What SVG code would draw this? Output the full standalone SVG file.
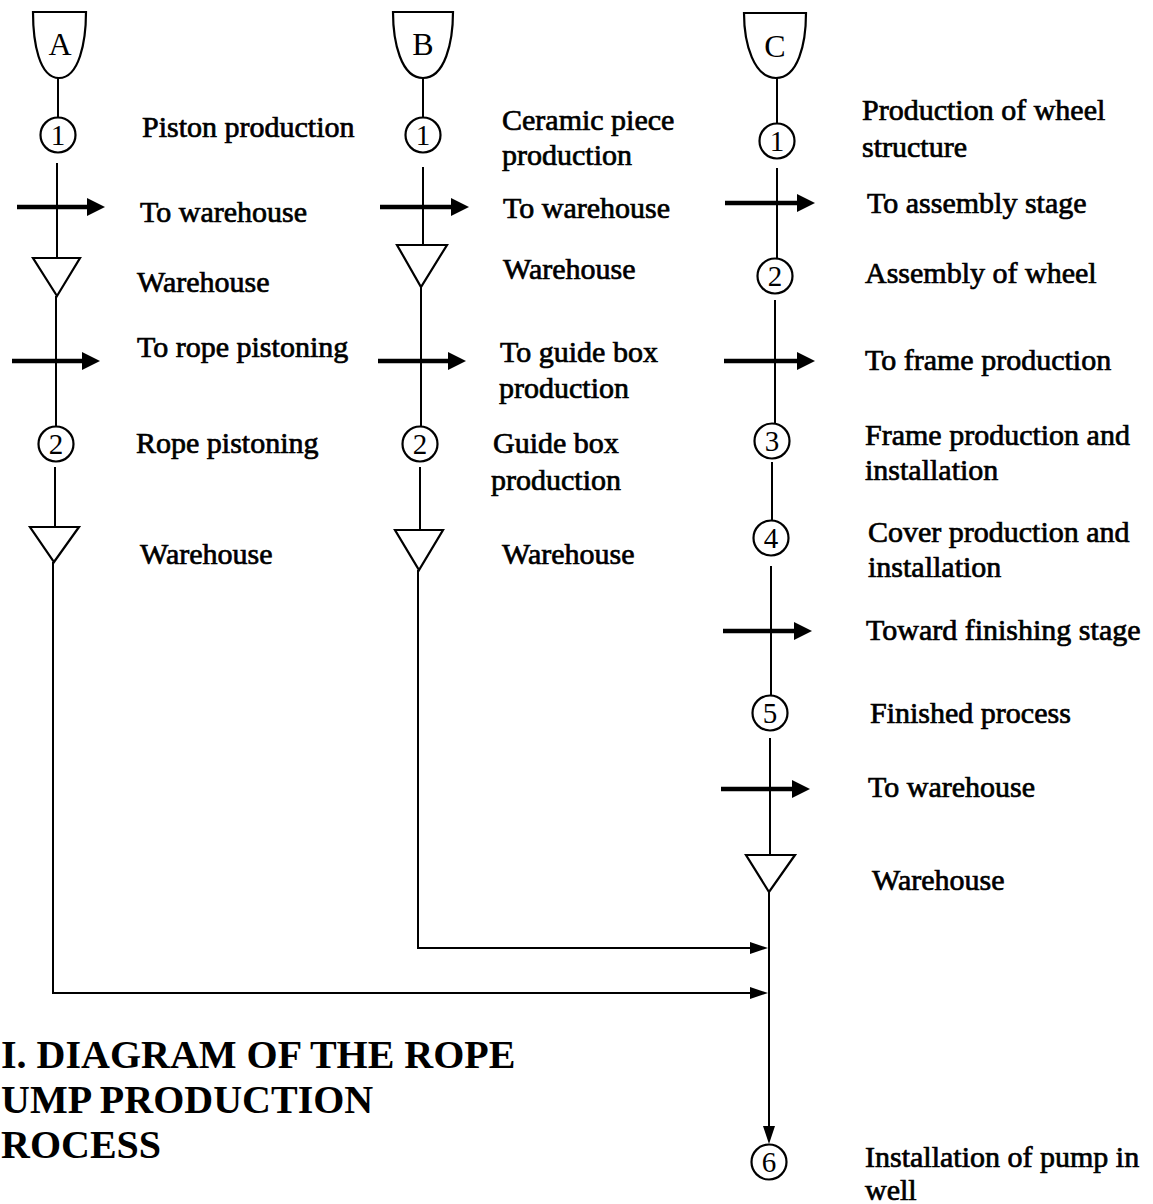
<svg xmlns="http://www.w3.org/2000/svg" width="1153" height="1204" viewBox="0 0 1153 1204">
<style>
.bg{fill:#fff}
.ln{stroke:#000;stroke-width:2;fill:none}
.shape{stroke:#000;stroke-width:2.2;fill:#fff}
.tr{stroke:#000;stroke-width:4.5;fill:none}
.lbl{font-family:"Liberation Serif","Times New Roman",serif;font-size:30px;fill:#000;stroke:#000;stroke-width:0.7}
.num{font-family:"Liberation Serif","Times New Roman",serif;font-size:29px;fill:#000;text-anchor:middle}
.let{font-family:"Liberation Serif","Times New Roman",serif;font-size:32px;fill:#000;text-anchor:middle}
.title{font-family:"Liberation Serif","Times New Roman",serif;font-size:40px;font-weight:bold;fill:#000}
</style>
<defs>
<marker id="big" markerUnits="userSpaceOnUse" markerWidth="18" markerHeight="18" refX="4" refY="9" orient="auto" viewBox="0 0 18 18">
<path d="M0,0 L18,9 L0,18 Z" fill="#000"/>
</marker>
<marker id="small" markerUnits="userSpaceOnUse" markerWidth="18" markerHeight="12" refX="2" refY="6" orient="auto" viewBox="0 0 18 12">
<path d="M0,0 L18,6 L0,12 Z" fill="#000"/>
</marker>
</defs>
<rect class="bg" x="0" y="0" width="1153" height="1204"/>

<g id="connectors">
<!-- column A -->
<line class="ln" x1="58" y1="78" x2="58" y2="117"/>
<line class="ln" x1="57" y1="163" x2="57" y2="258"/>
<line class="ln" x1="56" y1="296" x2="56" y2="426"/>
<line class="ln" x1="55" y1="467" x2="55" y2="527"/>
<polyline class="ln" points="53,562 53,993 752,993" marker-end="url(#small)"/>
<!-- column B -->
<line class="ln" x1="423" y1="78" x2="423" y2="117"/>
<line class="ln" x1="423" y1="167" x2="423" y2="245"/>
<line class="ln" x1="421" y1="287" x2="421" y2="426"/>
<line class="ln" x1="420" y1="467" x2="420" y2="530"/>
<polyline class="ln" points="418,570 418,948 752,948" marker-end="url(#small)"/>
<!-- column C -->
<line class="ln" x1="777" y1="78" x2="777" y2="124"/>
<line class="ln" x1="777" y1="168" x2="777" y2="258"/>
<line class="ln" x1="775" y1="300" x2="775" y2="424"/>
<line class="ln" x1="772" y1="462" x2="772" y2="520"/>
<line class="ln" x1="771" y1="566" x2="771" y2="696"/>
<line class="ln" x1="770" y1="738" x2="770" y2="855"/>
<line class="ln" x1="769" y1="892" x2="769" y2="1128" marker-end="url(#small)"/>
<!-- transport arrows -->
<line class="tr" x1="17" y1="207" x2="91" y2="207" marker-end="url(#big)"/>
<line class="tr" x1="12" y1="361" x2="86" y2="361" marker-end="url(#big)"/>
<line class="tr" x1="380" y1="207" x2="455" y2="207" marker-end="url(#big)"/>
<line class="tr" x1="378" y1="361" x2="452" y2="361" marker-end="url(#big)"/>
<line class="tr" x1="725" y1="203" x2="801" y2="203" marker-end="url(#big)"/>
<line class="tr" x1="724" y1="361" x2="801" y2="361" marker-end="url(#big)"/>
<line class="tr" x1="723" y1="631" x2="798" y2="631" marker-end="url(#big)"/>
<line class="tr" x1="721" y1="789" x2="796" y2="789" marker-end="url(#big)"/>
</g>

<g id="A">
<path class="shape" d="M33,12 H86 C86,42 79,78 59,78 C39,78 33,42 33,12 Z"/>
<text class="let" x="60" y="55">A</text>
</g>
<g id="A1"><circle class="shape" cx="58" cy="135" r="17.5"/><text class="num" x="58" y="145">1</text><text class="lbl" x="142" y="137">Piston production</text></g>
<g id="A-t1"><text class="lbl" x="140" y="222">To warehouse</text></g>
<g id="A-w1"><polygon class="shape" points="33,258 80,258 57,296"/><text class="lbl" x="137" y="292">Warehouse</text></g>
<g id="A-t2"><text class="lbl" x="137" y="357">To rope pistoning</text></g>
<g id="A2"><circle class="shape" cx="56" cy="444" r="17.5"/><text class="num" x="56" y="454">2</text><text class="lbl" x="136" y="453">Rope pistoning</text></g>
<g id="A-w2"><polygon class="shape" points="30,527 79,527 54,562"/><text class="lbl" x="140" y="564">Warehouse</text></g>

<g id="B">
<path class="shape" d="M393,12 H453 C453,42 445,78 423,78 C401,78 393,42 393,12 Z"/>
<text class="let" x="423" y="55">B</text>
</g>
<g id="B1"><circle class="shape" cx="423" cy="135" r="17.5"/><text class="num" x="423" y="145">1</text><text class="lbl" x="502" y="130">Ceramic piece</text><text class="lbl" x="502" y="165">production</text></g>
<g id="B-t1"><text class="lbl" x="503" y="218">To warehouse</text></g>
<g id="B-w1"><polygon class="shape" points="397,245 447,245 421,287"/><text class="lbl" x="503" y="279">Warehouse</text></g>
<g id="B-t2"><text class="lbl" x="500" y="362">To guide box</text><text class="lbl" x="499" y="398">production</text></g>
<g id="B2"><circle class="shape" cx="420" cy="444" r="17.5"/><text class="num" x="420" y="454">2</text><text class="lbl" x="493" y="453">Guide box</text><text class="lbl" x="491" y="490">production</text></g>
<g id="B-w2"><polygon class="shape" points="395,530 443,530 419,570"/><text class="lbl" x="502" y="564">Warehouse</text></g>

<g id="C">
<path class="shape" d="M744,13 H806 C806,44 798,78 776,78 C754,78 744,44 744,13 Z"/>
<text class="let" x="775" y="57">C</text>
</g>
<g id="C1"><circle class="shape" cx="777" cy="141" r="17.5"/><text class="num" x="777" y="151">1</text><text class="lbl" x="862" y="120">Production of wheel</text><text class="lbl" x="862" y="157">structure</text></g>
<g id="C-t1"><text class="lbl" x="867" y="213">To assembly stage</text></g>
<g id="C2"><circle class="shape" cx="775" cy="276" r="17.5"/><text class="num" x="775" y="286">2</text><text class="lbl" x="865" y="283">Assembly of wheel</text></g>
<g id="C-t2"><text class="lbl" x="865" y="370">To frame production</text></g>
<g id="C3"><circle class="shape" cx="772" cy="441" r="17.5"/><text class="num" x="772" y="451">3</text><text class="lbl" x="865" y="445">Frame production and</text><text class="lbl" x="865" y="480">installation</text></g>
<g id="C4"><circle class="shape" cx="771" cy="538" r="17.5"/><text class="num" x="771" y="548">4</text><text class="lbl" x="868" y="542">Cover production and</text><text class="lbl" x="868" y="577">installation</text></g>
<g id="C-t3"><text class="lbl" x="866" y="640">Toward finishing stage</text></g>
<g id="C5"><circle class="shape" cx="770" cy="713" r="17.5"/><text class="num" x="770" y="723">5</text><text class="lbl" x="870" y="723">Finished process</text></g>
<g id="C-t4"><text class="lbl" x="868" y="797">To warehouse</text></g>
<g id="C-w"><polygon class="shape" points="746,855 795,855 769,892"/><text class="lbl" x="872" y="890">Warehouse</text></g>
<g id="C6"><circle class="shape" cx="769" cy="1162" r="17.5"/><text class="num" x="769" y="1172">6</text><text class="lbl" x="865" y="1167">Installation of pump in</text><text class="lbl" x="865" y="1200">well</text></g>

<g id="title">
<text class="title" x="1" y="1068">I. DIAGRAM OF THE ROPE</text>
<text class="title" x="1" y="1113">UMP PRODUCTION</text>
<text class="title" x="1" y="1158">ROCESS</text>
</g>
</svg>
